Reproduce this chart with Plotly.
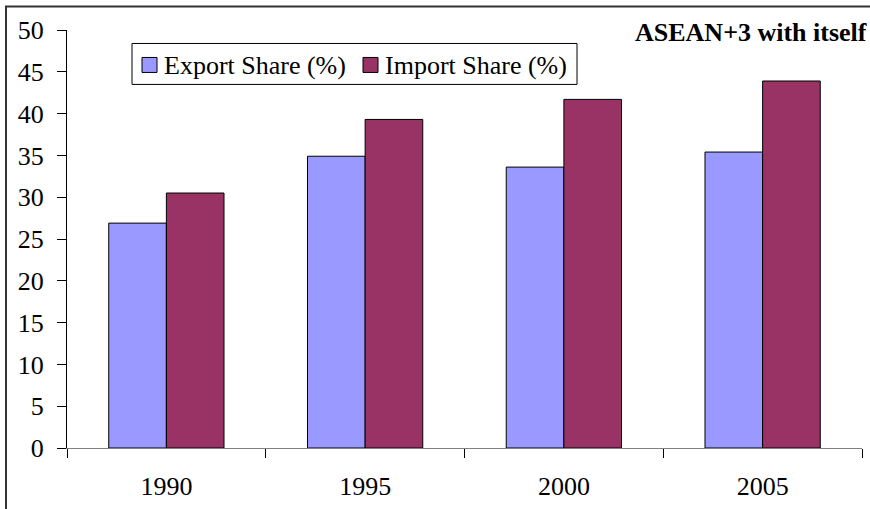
import plotly.graph_objects as go

years = ["1990", "1995", "2000", "2005"]
export_share = [26.9, 34.9, 33.6, 35.4]
import_share = [30.5, 39.3, 41.7, 43.9]
y_ticks = [0, 5, 10, 15, 20, 25, 30, 35, 40, 45, 50]
series_names = ["Export Share (%)", "Import Share (%)"]
series_colors = ["#9999FF", "#993366"]

FONT = "Liberation Serif"

fig = go.Figure()
for name, vals, col in zip(series_names, [export_share, import_share], series_colors):
    fig.add_trace(go.Bar(x=years, y=vals, name=name,
                         marker=dict(color=col, line=dict(color="black", width=1))))

W, H = 870, 509
L, R, T, B = 67, 8, 29.5, 61
pw, ph = W - L - R, H - T - B


def px(x):
    return (x - L) / pw


def py(y):
    return (H - B - y) / ph


shapes = [
    # outer chart border
    dict(type="rect", xref="paper", yref="paper",
         x0=px(6), x1=px(W + 20), y0=py(H + 20), y1=py(6),
         line=dict(color="#333333", width=2), fillcolor="rgba(0,0,0,0)", layer="below"),
    # legend box
    dict(type="rect", xref="paper", yref="paper",
         x0=px(132), x1=px(577), y0=py(84), y1=py(43),
         line=dict(color="black", width=1), fillcolor="white", layer="above"),
]
annotations = [
    dict(text="<b>ASEAN+3 with itself</b>", xref="paper", yref="paper",
         x=px(869), y=py(32), xanchor="right", yanchor="middle",
         showarrow=False, font=dict(family=FONT, size=26, color="black")),
]
leg_sq_x = [142, 363]
leg_txt_x = [162, 383]
for sx, tx, name, col in zip(leg_sq_x, leg_txt_x, series_names, series_colors):
    shapes.append(dict(type="rect", xref="paper", yref="paper",
                       x0=px(sx), x1=px(sx + 15), y0=py(72), y1=py(57),
                       line=dict(color="black", width=1), fillcolor=col, layer="above"))
    annotations.append(dict(text=name, xref="paper", yref="paper",
                            x=px(tx), y=py(65), xanchor="left", yanchor="middle",
                            showarrow=False, font=dict(family=FONT, size=26, color="black")))

fig.update_layout(
    width=W, height=H,
    margin=dict(l=L, r=R, t=T, b=B, pad=0),
    paper_bgcolor="white", plot_bgcolor="white",
    barmode="group", bargap=0.42, bargroupgap=0,
    font=dict(family=FONT, size=26, color="black"),
    showlegend=False,
    xaxis=dict(type="category", tickson="boundaries", ticks="outside", ticklen=9,
               tickcolor="black", showline=True, linecolor="#808080", linewidth=1,
               showgrid=False, range=[-0.5, 3.5], ticklabelstandoff=15,
               tickfont=dict(family=FONT, size=26)),
    yaxis=dict(range=[0, 50], tickvals=y_ticks, ticks="outside", ticklen=9,
               tickcolor="black", showline=True, linecolor="black", linewidth=1,
               showgrid=False, zeroline=False, ticklabelstandoff=8,
               tickfont=dict(family=FONT, size=26)),
    annotations=annotations,
    shapes=shapes,
)

fig.write_html("out.html")
